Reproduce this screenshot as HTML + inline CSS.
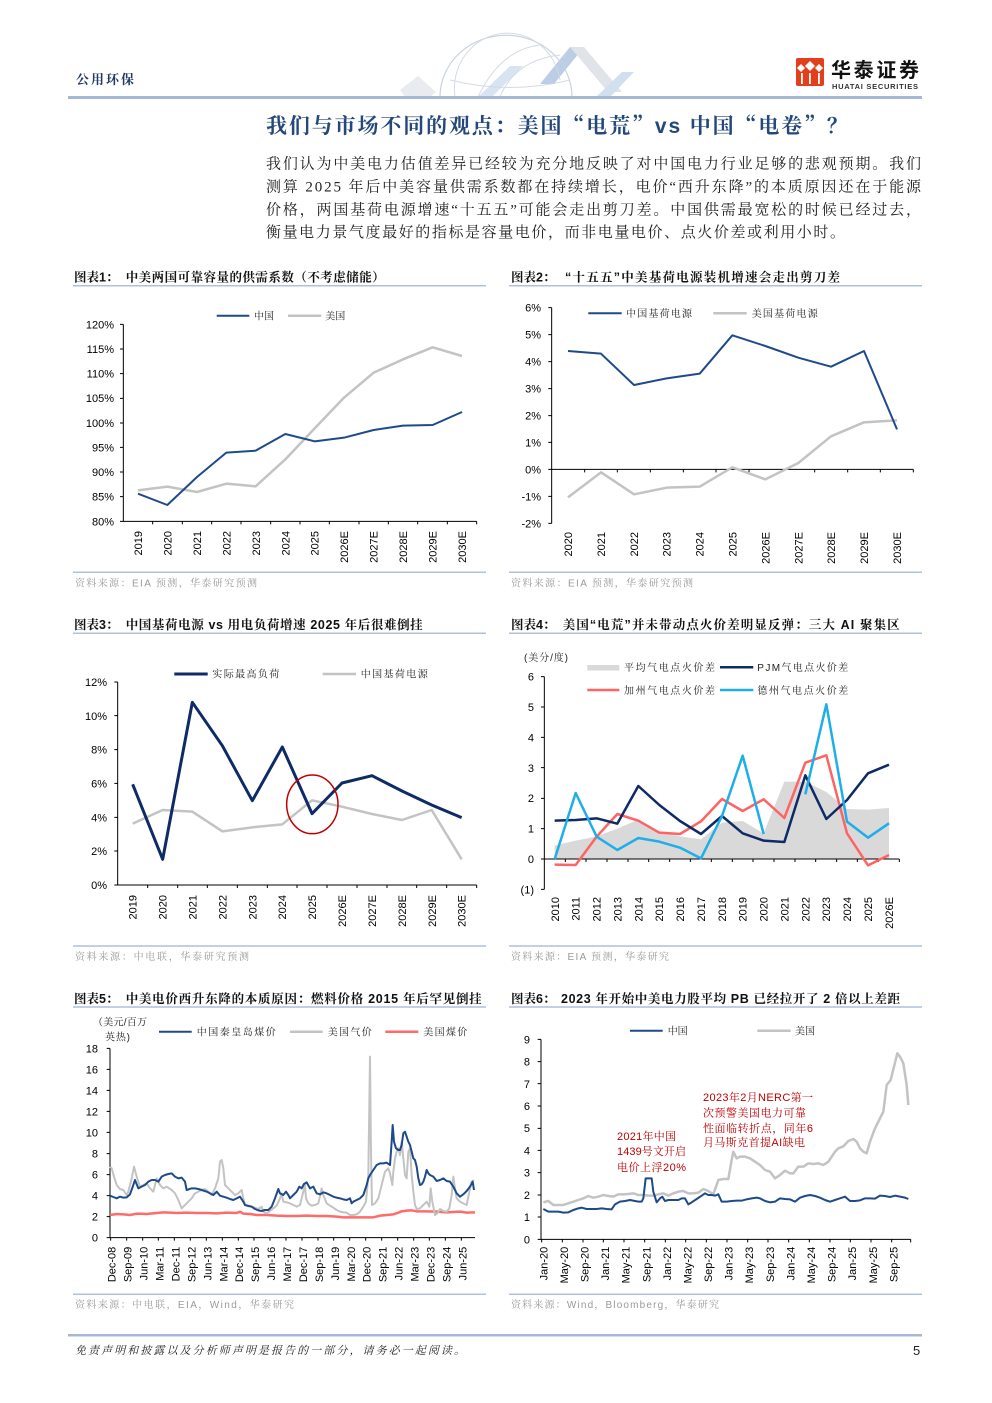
<!DOCTYPE html>
<html><head><meta charset="utf-8">
<style>
html,body{margin:0;padding:0;background:#fff;}
svg{display:block;}
.t{font-family:"Liberation Sans","Noto Sans CJK SC",sans-serif;font-size:11px;fill:#000;}
.p{font-family:"Liberation Serif","Noto Serif CJK SC",serif;font-size:15px;fill:#222;}
.h{font-family:"Liberation Sans","Noto Serif CJK SC",serif;font-weight:700;fill:#111;font-size:12.5px;}
.lg{font-family:"Liberation Sans","Noto Serif CJK SC",serif;font-size:10px;fill:#222;}
.src{font-family:"Liberation Sans","Noto Serif CJK SC",serif;font-size:10px;fill:#9a9a9a;}
.an{font-family:"Liberation Sans","Noto Serif CJK SC",serif;font-size:11px;fill:#C00000;}
.ax{stroke:#000;stroke-width:1;fill:none;vector-effect:non-scaling-stroke;}
.ln{fill:none;stroke-linejoin:round;vector-effect:non-scaling-stroke;}
.sep{stroke:#AFC1DA;stroke-width:1.5;}
.q{font-family:"Noto Serif CJK SC",serif;}
</style></head><body>
<svg width="992" height="1403" viewBox="0 0 992 1403" xmlns="http://www.w3.org/2000/svg">
<!-- HEADER -->
<text x="76" y="84" font-family="Liberation Sans, Noto Serif CJK SC, serif" font-weight="700" font-size="13" fill="#1F3864" textLength="58">公用环保</text>
<g opacity="0.6">
  <polygon points="400,90 418,76 436,92 430,97 405,97" fill="#DADFE6"/>
  <polygon points="478,97 510,66 523,66 492,97" fill="#BFD3EA"/>
  <polygon points="540,84 570,47 584,47 554,84" fill="#8EAED6"/>
  <polygon points="570,47 584,47 622,92 608,92" fill="#CDD2D9"/>
  <polygon points="596,97 622,72 634,72 610,97" fill="#B3CBE6"/>
</g>
<g opacity="0.9">
  <path d="M440,97 A62,58 0 0 1 572,97" fill="none" stroke="#C5CFDB" stroke-width="1.2"/>
  <path d="M455,97 A48,50 0 0 1 560,80" fill="none" stroke="#D0D8E2" stroke-width="1"/>
  <path d="M478,97 Q500,50 540,45" fill="none" stroke="#D0D8E2" stroke-width="1"/>
  <path d="M500,97 Q515,60 560,55" fill="none" stroke="#D0D8E2" stroke-width="1"/>
  <path d="M450,80 Q510,95 570,80" fill="none" stroke="#D0D8E2" stroke-width="1"/>
</g>
<rect x="68" y="96" width="854" height="3" fill="#A6B8D4"/>
<!-- logo -->
<rect x="796" y="58" width="28" height="28" rx="2" fill="#E2401C"/>
<polygon points="810,61 815,66 810,71 805,66" fill="#fff"/>
<polygon points="801,64 805,68 801,72 797,68" fill="#fff"/>
<polygon points="819,64 823,68 819,72 815,68" fill="#fff"/>
<rect x="801" y="73" width="1.8" height="11" fill="#fff"/>
<rect x="809" y="73" width="1.8" height="11" fill="#fff"/>
<rect x="818" y="73" width="1.8" height="11" fill="#fff"/>
<text x="831" y="77" font-family="Liberation Sans, Noto Sans CJK SC, sans-serif" font-weight="700" font-size="20" fill="#111" textLength="88">华泰证券</text>
<text x="832" y="89" font-family="Liberation Sans, sans-serif" font-weight="700" font-size="7.5" fill="#333" textLength="86">HUATAI SECURITIES</text>

<!-- TITLE -->
<text x="266" y="133" font-family="Liberation Sans, Noto Serif CJK SC, serif" font-weight="700" font-size="21" fill="#24487A" textLength="582">我们与市场不同的观点：美国<tspan class="q">“</tspan>电荒<tspan class="q">”</tspan>vs 中国<tspan class="q">“</tspan>电卷<tspan class="q">”</tspan>？</text>
<text class="p" x="266" y="168.5" textLength="655">我们认为中美电力估值差异已经较为充分地反映了对中国电力行业足够的悲观预期。我们</text>
<text class="p" x="266" y="191.5" textLength="655">测算 2025 年后中美容量供需系数都在持续增长，电价“西升东降”的本质原因还在于能源</text>
<text class="p" x="266" y="214.5" textLength="655">价格，两国基荷电源增速“十五五”可能会走出剪刀差。中国供需最宽松的时候已经过去，</text>
<text class="p" x="266" y="237" textLength="579">衡量电力景气度最好的指标是容量电价，而非电量电价、点火价差或利用小时。</text>

<!-- ============ CHART 1 ============ -->
<text class="h" x="74" y="281.5">图表1：</text>
<text class="h" x="125.7" y="281.5" textLength="259">中美两国可靠容量的供需系数（不考虑储能）</text>
<line class="sep" x1="73" y1="285.7" x2="486" y2="285.7"/>
<g transform="translate(60,265) scale(0.333333)">
  <path class="ax" d="M190,178 V769 H1250"/>
  <path class="ax" d="M180,178H190M180,252H190M180,326H190M180,400H190M180,474H190M180,547H190M180,621H190M180,695H190M180,769H190"/>
  <path class="ax" d="M278,769V778M367,769V778M455,769V778M543,769V778M632,769V778M720,769V778M808,769V778M897,769V778M985,769V778M1073,769V778M1162,769V778M1250,769V778"/>
  <polyline class="ln" stroke="#C3C3C3" stroke-width="2.5" points="234,676 322,665 411,681 499,656 587,664 676,583 764,490 852,398 941,323 1029,283 1118,247 1206,273"/>
  <polyline class="ln" stroke="#1F4A8A" stroke-width="2" points="234,686 322,720 411,636 499,563 587,557 676,507 764,529 852,518 941,495 1029,482 1118,480 1206,441"/>
</g>
<line x1="216.7" y1="315.7" x2="249.3" y2="315.7" stroke="#1F4A8A" stroke-width="2"/>
<text class="lg" x="254" y="319.5">中国</text>
<line x1="288" y1="315.7" x2="321.3" y2="315.7" stroke="#C3C3C3" stroke-width="2.5"/>
<text class="lg" x="325.3" y="319.5">美国</text>
<g class="t" text-anchor="end">
<text x="114" y="328.3">120%</text><text x="114" y="353">115%</text><text x="114" y="377.6">110%</text><text x="114" y="402.2">105%</text><text x="114" y="426.8">100%</text><text x="114" y="451.5">95%</text><text x="114" y="476.1">90%</text><text x="114" y="500.7">85%</text><text x="114" y="525.3">80%</text>
<text transform="translate(142.1,531) rotate(-90)">2019</text>
<text transform="translate(171.5,531) rotate(-90)">2020</text>
<text transform="translate(200.9,531) rotate(-90)">2021</text>
<text transform="translate(230.4,531) rotate(-90)">2022</text>
<text transform="translate(259.8,531) rotate(-90)">2023</text>
<text transform="translate(289.3,531) rotate(-90)">2024</text>
<text transform="translate(318.7,531) rotate(-90)">2025</text>
<text transform="translate(348.1,531) rotate(-90)">2026E</text>
<text transform="translate(377.6,531) rotate(-90)">2027E</text>
<text transform="translate(407,531) rotate(-90)">2028E</text>
<text transform="translate(436.5,531) rotate(-90)">2029E</text>
<text transform="translate(465.9,531) rotate(-90)">2030E</text>
</g>
<line class="sep" x1="73" y1="572.3" x2="486" y2="572.3"/>
<text class="src" x="75" y="586.5" textLength="182">资料来源：EIA 预测，华泰研究预测</text>

<!-- ============ CHART 2 ============ -->
<text class="h" x="511" y="281.5">图表2：</text>
<text class="h" x="565" y="281.5" textLength="275">“十五五”中美基荷电源装机增速会走出剪刀差</text>
<line class="sep" x1="509" y1="285.7" x2="922" y2="285.7"/>
<g transform="translate(500,265) scale(0.333333)">
  <path class="ax" d="M155,128 V775"/>
  <path class="ax" d="M155,613 H1240"/>
  <path class="ax" d="M145,128H155M145,209H155M145,290H155M145,371H155M145,452H155M145,532H155M145,613H155M145,694H155M145,775H155"/>
  <path class="ax" d="M254,613V622M352,613V622M451,613V622M550,613V622M648,613V622M747,613V622M845,613V622M944,613V622M1043,613V622M1141,613V622M1240,613V622"/>
  <polyline class="ln" stroke="#C3C3C3" stroke-width="2.5" points="204,697 303,622 402,688 500,668 599,665 697,607 796,643 895,594 993,514 1092,472 1191,466"/>
  <polyline class="ln" stroke="#1F4A8A" stroke-width="2" points="204,258 303,266 402,360 500,340 599,326 697,211 796,243 895,278 993,305 1092,258 1191,493"/>
</g>
<line x1="588.3" y1="313.3" x2="621.7" y2="313.3" stroke="#1F4A8A" stroke-width="2"/>
<text class="lg" x="626" y="317" textLength="66">中国基荷电源</text>
<line x1="713.3" y1="313.3" x2="746.7" y2="313.3" stroke="#C3C3C3" stroke-width="2.5"/>
<text class="lg" x="751.7" y="317" textLength="66">美国基荷电源</text>
<g class="t" text-anchor="end">
<text x="541" y="311.7">6%</text><text x="541" y="338.6">5%</text><text x="541" y="365.6">4%</text><text x="541" y="392.5">3%</text><text x="541" y="419.5">2%</text><text x="541" y="446.5">1%</text><text x="541" y="473.4">0%</text><text x="541" y="500.4">-1%</text><text x="541" y="527.3">-2%</text>
<text transform="translate(572.1,532) rotate(-90)">2020</text>
<text transform="translate(605,532) rotate(-90)">2021</text>
<text transform="translate(637.9,532) rotate(-90)">2022</text>
<text transform="translate(670.7,532) rotate(-90)">2023</text>
<text transform="translate(703.6,532) rotate(-90)">2024</text>
<text transform="translate(736.5,532) rotate(-90)">2025</text>
<text transform="translate(769.4,532) rotate(-90)">2026E</text>
<text transform="translate(802.3,532) rotate(-90)">2027E</text>
<text transform="translate(835.1,532) rotate(-90)">2028E</text>
<text transform="translate(868,532) rotate(-90)">2029E</text>
<text transform="translate(900.9,532) rotate(-90)">2030E</text>
</g>
<line class="sep" x1="509" y1="572.3" x2="922" y2="572.3"/>
<text class="src" x="511" y="586.5" textLength="182">资料来源：EIA 预测，华泰研究预测</text>

<!-- ============ CHART 3 ============ -->
<text class="h" x="74" y="629">图表3：</text>
<text class="h" x="125.7" y="629" textLength="297">中国基荷电源 vs 用电负荷增速 2025 年后很难倒挂</text>
<line class="sep" x1="73" y1="633.3" x2="486" y2="633.3"/>
<g transform="translate(60,610) scale(0.333333)">
  <path class="ax" d="M173,216 V825 H1250"/>
  <path class="ax" d="M163,216H173M163,317H173M163,419H173M163,520H173M163,622H173M163,723H173M163,825H173"/>
  <path class="ax" d="M263,825V834M353,825V834M442,825V834M532,825V834M622,825V834M711,825V834M801,825V834M891,825V834M981,825V834M1070,825V834M1160,825V834M1250,825V834"/>
  <polyline class="ln" stroke="#C3C3C3" stroke-width="2.5" points="218,641 308,600 397,605 487,664 577,652 667,643 756,571 846,590 936,612 1026,630 1115,600 1205,748"/>
  <polyline class="ln" stroke="#0F2B66" stroke-width="3" points="218,523 308,748 397,277 487,407 577,572 667,411 756,611 846,519 936,497 1026,543 1115,585 1205,623"/>
  <ellipse cx="757" cy="583" rx="77" ry="88" fill="none" stroke="#C00000" stroke-width="1.5" vector-effect="non-scaling-stroke"/>
</g>
<line x1="174.3" y1="674" x2="207.7" y2="674" stroke="#0F2B66" stroke-width="3"/>
<text class="lg" x="212.3" y="677.7" textLength="67">实际最高负荷</text>
<line x1="322.7" y1="674" x2="356" y2="674" stroke="#C3C3C3" stroke-width="2.5"/>
<text class="lg" x="360.7" y="677.7" textLength="67">中国基荷电源</text>
<g class="t" text-anchor="end">
<text x="107" y="686">12%</text><text x="107" y="719.8">10%</text><text x="107" y="753.7">8%</text><text x="107" y="787.5">6%</text><text x="107" y="821.3">4%</text><text x="107" y="855.2">2%</text><text x="107" y="889">0%</text>
<text transform="translate(136.6,895) rotate(-90)">2019</text>
<text transform="translate(166.5,895) rotate(-90)">2020</text>
<text transform="translate(196.5,895) rotate(-90)">2021</text>
<text transform="translate(226.4,895) rotate(-90)">2022</text>
<text transform="translate(256.3,895) rotate(-90)">2023</text>
<text transform="translate(286.2,895) rotate(-90)">2024</text>
<text transform="translate(316.1,895) rotate(-90)">2025</text>
<text transform="translate(346.1,895) rotate(-90)">2026E</text>
<text transform="translate(376,895) rotate(-90)">2027E</text>
<text transform="translate(405.9,895) rotate(-90)">2028E</text>
<text transform="translate(435.8,895) rotate(-90)">2029E</text>
<text transform="translate(465.7,895) rotate(-90)">2030E</text>
</g>
<line class="sep" x1="73" y1="946" x2="486" y2="946"/>
<text class="src" x="75" y="960" textLength="174">资料来源：中电联，华泰研究预测</text>

<!-- ============ CHART 4 ============ -->
<text class="h" x="511" y="629">图表4：</text>
<text class="h" x="562.7" y="629" textLength="337">美国“电荒”并未带动点火价差明显反弹：三大 AI 聚集区</text>
<line class="sep" x1="509" y1="633.3" x2="922" y2="633.3"/>
<g transform="translate(500,610) scale(0.333333)">
  <polygon fill="#D9D9D9" points="164,747 164,706 227,692 290,679 352,656 415,629 478,665 540,679 603,688 666,638 728,633 791,670 853,515 916,515 979,546 1041,597 1104,599 1167,594 1167,747"/>
  <path class="ax" d="M133,200 V838"/>
  <path class="ax" d="M133,747 H1198"/>
  <path class="ax" d="M123,200H133M123,291H133M123,382H133M123,473H133M123,565H133M123,656H133M123,747H133M123,838H133"/>
  <path class="ax" d="M196,747V756M258,747V756M321,747V756M384,747V756M446,747V756M509,747V756M571,747V756M634,747V756M697,747V756M759,747V756M822,747V756M885,747V756M947,747V756M1010,747V756M1072,747V756M1135,747V756M1198,747V756"/>
  <polyline class="ln" stroke="#FF6363" stroke-width="2.5" points="164,764 227,765 290,680 352,612 415,632 478,668 540,672 603,634 666,567 728,603 791,568 853,624 916,458 979,436 1041,670 1104,766 1167,735"/>
  <polyline class="ln" stroke="#0F2B66" stroke-width="2.5" points="164,632 227,630 290,625 352,641 415,528 478,585 540,633 603,672 666,618 728,670 791,692 853,696 916,496 979,627 1041,570 1104,490 1167,464"/>
  <polyline class="ln" stroke="#1EAEE8" stroke-width="2.5" points="164,747 227,549 290,680 352,720 415,684 478,695 540,713 603,745 666,618 728,437 791,672"/>
  <polyline class="ln" stroke="#1EAEE8" stroke-width="2.5" points="916,553 979,283 1041,635 1104,683 1167,640"/>
</g>
<text class="lg" x="524" y="661" textLength="44">(美分/度)</text>
<rect x="587.3" y="665" width="32" height="5.5" fill="#D9D9D9"/>
<text class="lg" x="624" y="671" textLength="91">平均气电点火价差</text>
<line x1="720" y1="667.3" x2="753.3" y2="667.3" stroke="#0F2B66" stroke-width="2.5"/>
<text class="lg" x="757.3" y="671" textLength="91">PJM气电点火价差</text>
<line x1="587.3" y1="690" x2="619.3" y2="690" stroke="#FF6363" stroke-width="2.5"/>
<text class="lg" x="624" y="694" textLength="91">加州气电点火价差</text>
<line x1="720" y1="690" x2="753.3" y2="690" stroke="#1EAEE8" stroke-width="2.5"/>
<text class="lg" x="757.3" y="694" textLength="91">德州气电点火价差</text>
<g class="t" text-anchor="end">
<text x="534" y="680.7">6</text><text x="534" y="711">5</text><text x="534" y="741.4">4</text><text x="534" y="771.8">3</text><text x="534" y="802.2">2</text><text x="534" y="832.6">1</text><text x="534" y="863">0</text><text x="534" y="893.3">(1)</text>
<text transform="translate(558.8,897) rotate(-90)">2010</text>
<text transform="translate(579.7,897) rotate(-90)">2011</text>
<text transform="translate(600.6,897) rotate(-90)">2012</text>
<text transform="translate(621.4,897) rotate(-90)">2013</text>
<text transform="translate(642.3,897) rotate(-90)">2014</text>
<text transform="translate(663.2,897) rotate(-90)">2015</text>
<text transform="translate(684.1,897) rotate(-90)">2016</text>
<text transform="translate(705,897) rotate(-90)">2017</text>
<text transform="translate(725.8,897) rotate(-90)">2018</text>
<text transform="translate(746.7,897) rotate(-90)">2019</text>
<text transform="translate(767.6,897) rotate(-90)">2020</text>
<text transform="translate(788.5,897) rotate(-90)">2021</text>
<text transform="translate(809.4,897) rotate(-90)">2022</text>
<text transform="translate(830.2,897) rotate(-90)">2023</text>
<text transform="translate(851.1,897) rotate(-90)">2024</text>
<text transform="translate(872,897) rotate(-90)">2025</text>
<text transform="translate(892.9,897) rotate(-90)">2026E</text>
</g>
<line class="sep" x1="509" y1="946" x2="922" y2="946"/>
<text class="src" x="511" y="960" textLength="158">资料来源：EIA 预测，华泰研究</text>

<!-- ============ CHART 5 ============ -->
<text class="h" x="74" y="1003">图表5：</text>
<text class="h" x="125.7" y="1003" textLength="356">中美电价西升东降的本质原因：燃料价格 2015 年后罕见倒挂</text>
<line class="sep" x1="73" y1="1007" x2="486" y2="1007"/>
<g transform="translate(60,985) scale(0.333333)">
  <path class="ax" d="M150,190 V758 H1245"/>
  <path class="ax" d="M140,190H150M140,253H150M140,316H150M140,379H150M140,442H150M140,506H150M140,569H150M140,632H150M140,695H150M140,758H150"/>
  <path class="ax" d="M152,758V767M200,758V767M248,758V767M295,758V767M343,758V767M391,758V767M439,758V767M487,758V767M535,758V767M582,758V767M630,758V767M678,758V767M726,758V767M774,758V767M821,758V767M869,758V767M917,758V767M965,758V767M1013,758V767M1061,758V767M1108,758V767M1156,758V767M1204,758V767"/>
  <polyline class="ln" stroke="#FF6B6B" stroke-width="2.5" points="150,690 170,687 190,688 210,690 230,686 260,687 290,684 310,682 330,683 350,684 380,683 410,684 440,684 470,685 500,683 530,684 540,680 550,686 570,687 590,690 620,690 650,692 680,693 710,693 740,692 770,693 800,693 830,695 850,697 880,697 910,697 940,697 960,692 980,690 1000,688 1015,683 1025,679 1040,677 1055,676 1070,679 1100,679 1130,680 1160,682 1200,680 1220,683 1245,682"/>
  <polyline class="ln" stroke="#C3C3C3" stroke-width="2" points="150,545 155,550 162,575 170,600 180,612 190,615 200,630 205,620 215,580 222,545 230,575 240,605 250,600 260,595 270,610 280,620 290,580 300,600 310,610 320,605 335,615 345,625 355,645 365,670 375,660 385,650 395,640 405,625 415,620 425,615 435,612 445,620 455,630 465,610 475,580 480,530 485,525 490,550 495,600 505,610 515,620 525,630 535,625 545,615 550,640 555,660 565,662 575,665 585,668 595,672 605,665 610,680 620,685 630,678 640,670 650,662 660,640 665,625 670,650 680,652 690,655 700,660 710,665 720,660 730,620 735,600 738,640 745,655 755,662 765,660 775,655 785,610 790,630 800,655 810,662 820,668 830,675 840,680 850,682 860,683 870,690 880,690 890,688 900,680 910,665 918,650 925,570 930,215 933,500 936,660 945,655 955,640 965,600 975,560 985,550 990,565 997,600 1000,560 1005,520 1010,500 1015,490 1020,510 1025,470 1030,520 1035,570 1040,580 1045,500 1050,490 1055,570 1060,620 1065,660 1070,672 1080,670 1090,660 1100,650 1108,665 1112,610 1117,650 1125,690 1132,685 1140,672 1150,678 1160,680 1168,670 1175,630 1180,575 1185,610 1190,640 1200,650 1210,655 1220,660 1228,620 1235,590 1242,585"/>
  <polyline class="ln" stroke="#1F4A8A" stroke-width="2" points="150,632 160,636 170,640 180,635 190,638 200,637 210,628 220,600 225,585 235,610 245,605 255,600 265,590 275,585 285,585 295,590 305,575 315,570 325,567 335,565 345,575 355,580 365,578 375,590 380,615 395,610 405,610 415,612 425,615 440,620 460,630 470,620 480,632 490,635 500,638 510,642 520,645 530,640 540,635 550,650 555,660 565,663 575,665 585,672 595,676 605,678 615,675 625,675 635,665 645,640 655,612 660,625 670,630 678,620 685,630 690,640 700,630 710,620 718,605 725,610 732,597 740,592 750,610 760,605 770,625 780,628 790,622 800,625 810,630 820,635 830,638 840,640 850,643 860,645 870,640 875,655 880,650 890,645 900,640 910,630 915,615 920,600 925,580 930,570 940,555 950,540 960,535 970,535 980,533 990,540 995,470 998,420 1002,470 1008,490 1015,495 1020,495 1025,480 1030,445 1035,440 1040,455 1045,470 1050,480 1055,500 1060,520 1065,525 1070,545 1075,580 1080,600 1085,598 1090,590 1095,575 1100,555 1105,565 1110,570 1120,575 1130,588 1140,585 1150,580 1160,588 1170,590 1180,605 1190,625 1200,635 1210,628 1220,618 1230,605 1238,590 1242,615"/>
</g>
<text class="lg" x="93" y="1025.5" textLength="54">（美元/百万</text>
<text class="lg" x="105" y="1040.5" textLength="25">英热)</text>
<line x1="159" y1="1031.7" x2="191.7" y2="1031.7" stroke="#1F4A8A" stroke-width="2"/>
<text class="lg" x="196.7" y="1035.5" textLength="79">中国秦皇岛煤价</text>
<line x1="290" y1="1031.7" x2="322.7" y2="1031.7" stroke="#C3C3C3" stroke-width="2.5"/>
<text class="lg" x="327.7" y="1035.5" textLength="44">美国气价</text>
<line x1="385.3" y1="1031.7" x2="418.3" y2="1031.7" stroke="#FF6B6B" stroke-width="2.5"/>
<text class="lg" x="423.3" y="1035.5" textLength="44">美国煤价</text>
<g class="t" text-anchor="end">
<text x="98" y="1052.3">18</text><text x="98" y="1073.4">16</text><text x="98" y="1094.4">14</text><text x="98" y="1115.4">12</text><text x="98" y="1136.5">10</text><text x="98" y="1157.5">8</text><text x="98" y="1178.6">6</text><text x="98" y="1199.6">4</text><text x="98" y="1220.7">2</text><text x="98" y="1241.7">0</text>
<text transform="translate(115.7,1246.7) rotate(-90)">Dec-08</text>
<text transform="translate(131.6,1246.7) rotate(-90)">Sep-09</text>
<text transform="translate(147.5,1246.7) rotate(-90)">Jun-10</text>
<text transform="translate(163.5,1246.7) rotate(-90)">Mar-11</text>
<text transform="translate(179.4,1246.7) rotate(-90)">Dec-11</text>
<text transform="translate(195.4,1246.7) rotate(-90)">Sep-12</text>
<text transform="translate(211.3,1246.7) rotate(-90)">Jun-13</text>
<text transform="translate(227.3,1246.7) rotate(-90)">Mar-14</text>
<text transform="translate(243.2,1246.7) rotate(-90)">Dec-14</text>
<text transform="translate(259.1,1246.7) rotate(-90)">Sep-15</text>
<text transform="translate(275.1,1246.7) rotate(-90)">Jun-16</text>
<text transform="translate(291,1246.7) rotate(-90)">Mar-17</text>
<text transform="translate(307,1246.7) rotate(-90)">Dec-17</text>
<text transform="translate(322.9,1246.7) rotate(-90)">Sep-18</text>
<text transform="translate(338.8,1246.7) rotate(-90)">Jun-19</text>
<text transform="translate(354.8,1246.7) rotate(-90)">Mar-20</text>
<text transform="translate(370.7,1246.7) rotate(-90)">Dec-20</text>
<text transform="translate(386.7,1246.7) rotate(-90)">Sep-21</text>
<text transform="translate(402.6,1246.7) rotate(-90)">Jun-22</text>
<text transform="translate(418.5,1246.7) rotate(-90)">Mar-23</text>
<text transform="translate(434.5,1246.7) rotate(-90)">Dec-23</text>
<text transform="translate(450.4,1246.7) rotate(-90)">Sep-24</text>
<text transform="translate(466.4,1246.7) rotate(-90)">Jun-25</text>
</g>
<line class="sep" x1="73" y1="1294.3" x2="486" y2="1294.3"/>
<text class="src" x="75" y="1308" textLength="219">资料来源：中电联，EIA，Wind，华泰研究</text>

<!-- ============ CHART 6 ============ -->
<text class="h" x="511" y="1003">图表6：</text>
<text class="h" x="561" y="1003" textLength="339">2023 年开始中美电力股平均 PB 已经拉开了 2 倍以上差距</text>
<line class="sep" x1="509" y1="1007" x2="922" y2="1007"/>
<g transform="translate(500,985) scale(0.333333)">
  <path class="ax" d="M123,163 V763 H1232"/>
  <path class="ax" d="M113,163H123M113,230H123M113,296H123M113,363H123M113,430H123M113,496H123M113,563H123M113,630H123M113,696H123M113,763H123"/>
  <path class="ax" d="M125,763V772M187,763V772M249,763V772M310,763V772M372,763V772M434,763V772M496,763V772M557,763V772M619,763V772M681,763V772M743,763V772M804,763V772M866,763V772M928,763V772M990,763V772M1051,763V772M1113,763V772M1175,763V772M1232,763V772"/>
  <polyline class="ln" stroke="#C3C3C3" stroke-width="2.5" points="130,652 145,648 160,660 175,660 190,660 205,655 220,650 235,645 250,640 265,633 280,638 295,635 310,630 325,633 340,635 355,628 370,628 385,627 400,625 415,630 430,630 445,632 460,632 475,628 490,625 505,632 520,625 535,620 550,618 565,625 580,625 595,623 610,612 625,618 640,628 655,585 670,582 685,582 695,525 700,500 710,520 720,515 735,515 750,520 765,530 780,540 795,555 810,560 825,580 840,570 855,557 870,565 880,565 895,545 910,545 925,535 940,537 955,535 970,540 985,530 995,515 1005,500 1015,490 1030,484 1045,468 1060,462 1070,470 1080,490 1090,500 1100,505 1110,470 1125,430 1140,400 1150,380 1160,300 1172,285 1182,245 1192,205 1200,215 1210,235 1220,300 1225,360"/>
  <polyline class="ln" stroke="#1F4A8A" stroke-width="2" points="130,672 145,680 160,680 175,680 190,683 205,682 220,675 235,670 245,668 260,672 275,672 290,672 305,670 320,672 335,673 345,658 360,650 375,648 390,645 405,648 415,650 425,650 430,640 437,580 445,580 455,580 460,620 470,652 480,640 487,635 495,648 505,645 520,645 535,645 545,640 555,640 565,658 575,652 590,642 605,632 615,625 625,630 635,630 645,632 655,628 665,650 680,650 695,648 710,647 725,647 740,643 755,640 770,638 780,640 795,648 810,652 825,650 840,640 855,642 870,643 885,650 900,638 915,633 930,630 945,633 960,638 975,645 990,650 1005,645 1020,640 1035,635 1050,648 1065,648 1080,646 1095,640 1110,640 1125,641 1140,632 1155,633 1170,636 1185,632 1200,635 1215,638 1225,642"/>
</g>
<line x1="630" y1="1030.7" x2="662.7" y2="1030.7" stroke="#1F4A8A" stroke-width="2"/>
<text class="lg" x="667.7" y="1034.5">中国</text>
<line x1="757.3" y1="1030.7" x2="790.7" y2="1030.7" stroke="#C3C3C3" stroke-width="2.5"/>
<text class="lg" x="795" y="1034.5">美国</text>
<text class="an" x="617" y="1140" textLength="59">2021年中国</text>
<text class="an" x="617" y="1155" textLength="69">1439号文开启</text>
<text class="an" x="617" y="1171" textLength="69">电价上浮20%</text>
<text class="an" x="703" y="1101" textLength="110">2023年2月NERC第一</text>
<text class="an" x="703" y="1116.5" textLength="103">次预警美国电力可靠</text>
<text class="an" x="703" y="1132" textLength="110">性面临转折点，同年6</text>
<text class="an" x="703" y="1146" textLength="102">月马斯克首提AI缺电</text>
<g class="t" text-anchor="end">
<text x="530" y="1043.3">9</text><text x="530" y="1065.6">8</text><text x="530" y="1087.8">7</text><text x="530" y="1110">6</text><text x="530" y="1132.2">5</text><text x="530" y="1154.4">4</text><text x="530" y="1176.7">3</text><text x="530" y="1198.9">2</text><text x="530" y="1221.1">1</text><text x="530" y="1243.3">0</text>
<text transform="translate(547.3,1246.7) rotate(-90)">Jan-20</text>
<text transform="translate(567.9,1246.7) rotate(-90)">May-20</text>
<text transform="translate(588.5,1246.7) rotate(-90)">Sep-20</text>
<text transform="translate(609.1,1246.7) rotate(-90)">Jan-21</text>
<text transform="translate(629.7,1246.7) rotate(-90)">May-21</text>
<text transform="translate(650.3,1246.7) rotate(-90)">Sep-21</text>
<text transform="translate(670.9,1246.7) rotate(-90)">Jan-22</text>
<text transform="translate(691.5,1246.7) rotate(-90)">May-22</text>
<text transform="translate(712.1,1246.7) rotate(-90)">Sep-22</text>
<text transform="translate(732.6,1246.7) rotate(-90)">Jan-23</text>
<text transform="translate(753.2,1246.7) rotate(-90)">May-23</text>
<text transform="translate(773.8,1246.7) rotate(-90)">Sep-23</text>
<text transform="translate(794.4,1246.7) rotate(-90)">Jan-24</text>
<text transform="translate(815,1246.7) rotate(-90)">May-24</text>
<text transform="translate(835.6,1246.7) rotate(-90)">Sep-24</text>
<text transform="translate(856.2,1246.7) rotate(-90)">Jan-25</text>
<text transform="translate(876.8,1246.7) rotate(-90)">May-25</text>
<text transform="translate(897.4,1246.7) rotate(-90)">Sep-25</text>
</g>
<line class="sep" x1="509" y1="1294.3" x2="922" y2="1294.3"/>
<text class="src" x="511" y="1308" textLength="208">资料来源：Wind，Bloomberg，华泰研究</text>

<!-- FOOTER -->
<rect x="68" y="1334" width="854" height="2.5" fill="#A6B8D4"/>
<text x="75" y="1354" font-family="Liberation Serif, Noto Serif CJK SC, serif" font-style="italic" font-size="11" fill="#222" textLength="390">免责声明和披露以及分析师声明是报告的一部分，请务必一起阅读。</text>
<text x="913" y="1355" font-family="Liberation Sans, sans-serif" font-size="13" fill="#222">5</text>
</svg>
</body></html>
